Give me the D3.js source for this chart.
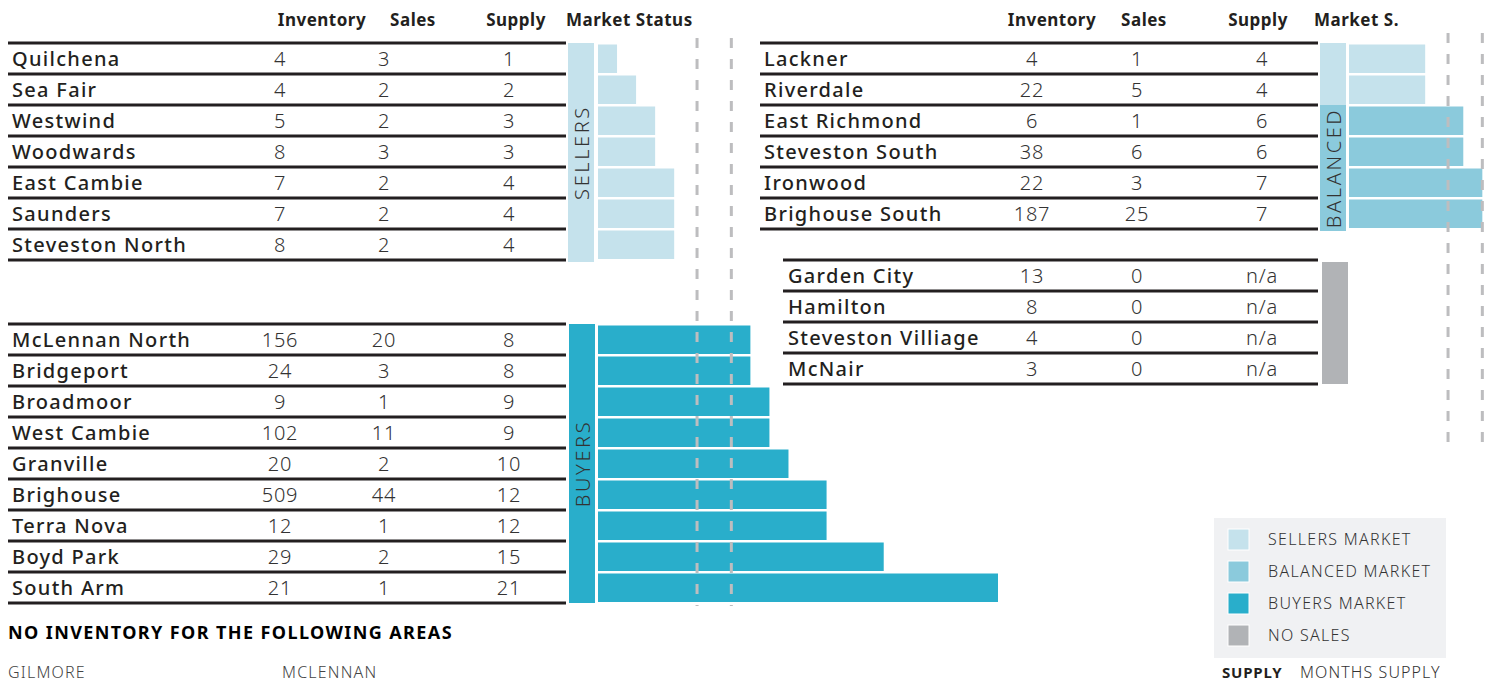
<!DOCTYPE html>
<html><head><meta charset="utf-8">
<script src="https://cdn.jsdelivr.net/npm/d3@7"></script>
<style>
body{margin:0;background:#fff;}
svg{display:block;font-family:"Noto Sans",sans-serif;}
</style></head>
<body><svg id="c" width="1486" height="683"></svg>
<script>
// ---------- DATA ----------
const sellersNames = ["Quilchena","Sea Fair","Westwind","Woodwards","East Cambie","Saunders","Steveston North"];
const sellersInventory = [4,4,5,8,7,7,8];
const sellersSales = [3,2,2,3,2,2,2];
const sellersSupply = [1,2,3,3,4,4,4];

const buyersNames = ["McLennan North","Bridgeport","Broadmoor","West Cambie","Granville","Brighouse","Terra Nova","Boyd Park","South Arm"];
const buyersInventory = [156,24,9,102,20,509,12,29,21];
const buyersSales = [20,3,1,11,2,44,1,2,1];
const buyersSupply = [8,8,9,9,10,12,12,15,21];

const rightNames = ["Lackner","Riverdale","East Richmond","Steveston South","Ironwood","Brighouse South"];
const rightInventory = [4,22,6,38,22,187];
const rightSales = [1,5,1,6,3,25];
const rightSupply = [4,4,6,6,7,7];
const rightStatus = ["sellers","sellers","balanced","balanced","balanced","balanced"];

const noSalesNames = ["Garden City","Hamilton","Steveston Villiage","McNair"];
const noSalesInventory = [13,8,4,3];
const noSalesSales = [0,0,0,0];
const noSalesSupply = ["n/a","n/a","n/a","n/a"];

const noInventoryAreas = ["GILMORE","MCLENNAN"];
const thresholds = [5.2, 7];
const headers = ["Inventory","Sales","Supply"];
const legendKeys = ["sellers","balanced","buyers","nosales"];
const legendLabels = ["SELLERS MARKET","BALANCED MARKET","BUYERS MARKET","NO SALES"];

// ---------- STYLE ----------
const colors = {sellers:"#c5e2ec", balanced:"#8bcadc", buyers:"#29aecb", nosales:"#b1b3b6"};
const ROW = 31;
const svg = d3.select("#c");
const x = d3.scaleLinear().domain([0,21]).range([0,400]);

function table(opt){
  const n = opt.names.length;
  const y = d3.scaleBand().domain(d3.range(n)).range([opt.top, opt.top + n*ROW]);
  const g = svg.append("g");
  g.selectAll("line.r").data(d3.range(n+1)).join("line")
    .attr("x1",opt.x0).attr("x2",opt.x1)
    .attr("y1",i=>opt.top+i*ROW).attr("y2",i=>opt.top+i*ROW)
    .attr("stroke","#231f20").attr("stroke-width",3);
  const rows = g.selectAll("g.row").data(d3.range(n)).join("g")
    .attr("transform",i=>`translate(0,${y(i)+y.bandwidth()/2})`);
  rows.append("text").attr("x",opt.nameX).attr("dy","0.36em")
    .attr("font-size",20).attr("font-weight",500).attr("fill","#231f20")
    .attr("letter-spacing","1.3px")
    .text(i=>opt.names[i]);
  const cols = [opt.inv, opt.sales, opt.supply];
  cols.forEach((arr,ci)=>{
    rows.append("text").attr("x",opt.colX[ci]).attr("dy","0.36em")
      .attr("text-anchor","middle").attr("font-size",20).attr("font-weight",300).attr("fill","#333")
      .attr("letter-spacing","0.8px")
      .text(i=>arr[i]);
  });
  return y;
}

function bars(y, supply, status, bx){
  svg.append("g").selectAll("rect").data(supply).join("rect")
    .attr("x",bx).attr("y",(d,i)=>y(i)+1.5).attr("height",ROW-2.5)
    .attr("width",d=>x(d)).attr("fill",(d,i)=>colors[status[i]]);
}

function statusBlock(xp, y0, y1, key, label){
  svg.append("rect").attr("x",xp).attr("y",y0).attr("width",26).attr("height",y1-y0).attr("fill",colors[key]);
  if(label){
    svg.append("text").attr("transform",`translate(${xp+14},${(y0+y1)/2}) rotate(-90)`)
      .attr("text-anchor","middle").attr("dy","0.36em").attr("font-size",20).attr("font-weight",300)
      .attr("letter-spacing","2.6px")
      .attr("fill","#333").text(label);
  }
}

function dashed(xp, y0, y1){
  svg.append("line").attr("x1",xp).attr("x2",xp).attr("y1",y0).attr("y2",y1)
    .attr("stroke","#bdbdbf").attr("stroke-width",3).attr("stroke-dasharray","10,11");
}

function header(list, xs, extra, extraX){
  list.forEach((h,i)=>svg.append("text").attr("x",xs[i]).attr("y",26).attr("text-anchor","middle")
    .attr("font-size",17).attr("font-weight",700).attr("fill","#231f20").attr("letter-spacing","0.5px").text(h));
  svg.append("text").attr("x",extraX).attr("y",26).attr("font-size",17).attr("font-weight",700)
    .attr("letter-spacing","0.5px").attr("fill","#231f20").text(extra);
}

// ---------- LEFT ----------
const LBX = 598;
statusBlock(568, 43, 262, "sellers", "SELLERS");
statusBlock(569, 324, 603, "buyers", "BUYERS");
const ys = table({names:sellersNames, inv:sellersInventory, sales:sellersSales, supply:sellersSupply,
  top:43, x0:8, x1:566, nameX:12, colX:[280,384,509]});
bars(ys, sellersSupply, sellersSupply.map(()=>"sellers"), LBX);
const yb = table({names:buyersNames, inv:buyersInventory, sales:buyersSales, supply:buyersSupply,
  top:324, x0:8, x1:566, nameX:12, colX:[280,384,509]});
bars(yb, buyersSupply, buyersSupply.map(()=>"buyers"), LBX);
thresholds.forEach(t=>dashed(LBX + x(t), 38, 606));
header(headers, [322,413,516], "Market Status", 566);

// ---------- RIGHT ----------
const RBX = 1349;
statusBlock(1320, 43, 105, "sellers", null);
statusBlock(1320, 105, 231, "balanced", "BALANCED");
const yr = table({names:rightNames, inv:rightInventory, sales:rightSales, supply:rightSupply,
  top:43, x0:760, x1:1318, nameX:764, colX:[1032,1137,1262]});
bars(yr, rightSupply, rightStatus, RBX);
thresholds.forEach(t=>dashed(RBX + x(t), 33, 444));
header(headers, [1052,1144,1258], "Market S.", 1314);

statusBlock(1322, 262, 384, "nosales", null);
table({names:noSalesNames, inv:noSalesInventory, sales:noSalesSales, supply:noSalesSupply,
  top:260, x0:783, x1:1318, nameX:788, colX:[1032,1137,1262]});

// ---------- LEGEND ----------
svg.append("rect").attr("x",1214).attr("y",518).attr("width",232).attr("height",140).attr("fill","#f0f1f3");
const lg = svg.append("g").selectAll("g").data(legendKeys).join("g")
  .attr("transform",(d,i)=>`translate(1228,${529+i*32})`);
lg.append("rect").attr("width",21).attr("height",21).attr("fill",d=>colors[d]).attr("stroke","#fff").attr("stroke-width",1);
lg.append("text").attr("x",40).attr("y",10.5).attr("dy","0.36em").attr("font-size",16).attr("font-weight",300)
  .attr("letter-spacing","1.3px").attr("fill","#333").text((d,i)=>legendLabels[i]);
svg.append("text").attr("x",1222).attr("y",678).attr("font-size",15).attr("font-weight",700)
  .attr("letter-spacing","0.8px").attr("fill","#231f20").text("SUPPLY");
svg.append("text").attr("x",1300).attr("y",678).attr("font-size",16).attr("font-weight",300)
  .attr("letter-spacing","1.1px").attr("fill","#333").text("MONTHS SUPPLY");

// ---------- NO INVENTORY ----------
svg.append("text").attr("x",8).attr("y",639).attr("font-size",18).attr("font-weight",700).attr("fill","#000")
  .attr("letter-spacing","1.4px").text("NO INVENTORY FOR THE FOLLOWING AREAS");
const niX = [8,282];
svg.append("g").selectAll("text").data(noInventoryAreas).join("text")
  .attr("x",(d,i)=>niX[i]).attr("y",678).attr("font-size",16).attr("font-weight",300)
  .attr("letter-spacing","1.2px").attr("fill","#444").text(d=>d);
</script></body></html>
